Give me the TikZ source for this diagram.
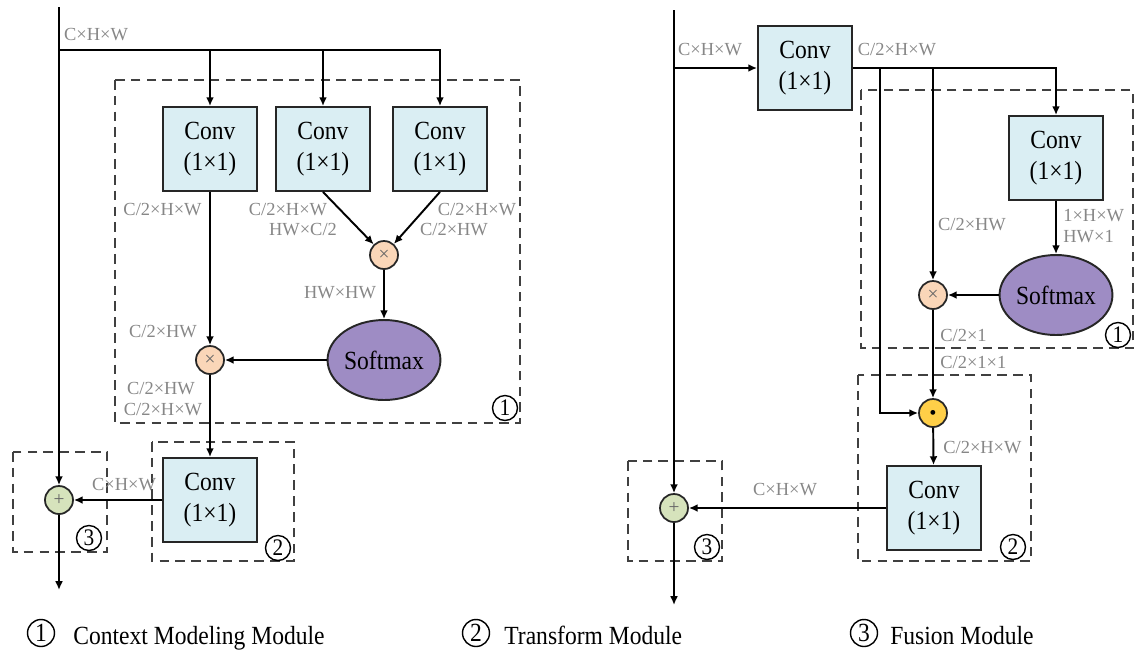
\documentclass[tikz,border=0pt]{standalone}
\usepackage{fontspec}
\setmainfont{Liberation Serif}[FakeStretch=0.9]
\newfontfamily\labelfont{Liberation Serif}
\usepackage{xcolor}
\usepackage{tikz}
\usetikzlibrary{arrows.meta}
\usetikzlibrary{shapes.geometric}
\usetikzlibrary{positioning, calc}

\definecolor{convblue}{RGB}{218,238,243}
\definecolor{softpurple}{RGB}{158,140,196}
\definecolor{mulpeach}{RGB}{250,214,184}
\definecolor{addgreen}{RGB}{214,227,188}
\definecolor{dotyellow}{RGB}{255,207,72}
\definecolor{dimgray}{RGB}{135,135,135}

\tikzset{
  big/.style={font=\fontsize{14.9}{18}\selectfont},
  conv/.style={rectangle,draw=black!85,line width=1.1pt,fill=convblue,
               minimum width=1.88cm,minimum height=1.68cm,inner sep=0pt,
               align=center,big},
  soft/.style={ellipse,draw=black!85,line width=1.1pt,fill=softpurple,
               minimum width=2.24cm,minimum height=1.6cm,inner sep=0pt,big},
  op/.style={circle,draw=black!85,line width=1pt,minimum size=0.56cm,
             inner sep=0pt,text=black!60,font=\labelfont\fontsize{11}{11}\selectfont},
  num/.style={circle,draw=black,line width=0.8pt,minimum size=0.5cm,
              inner sep=0pt,font=\fontsize{13.5}{13.5}\selectfont},
  dim/.style={text=dimgray,inner sep=0pt,font=\labelfont\fontsize{10.5}{12}\selectfont},
  dashbox/.style={draw=black!75,line width=0.75pt,dash pattern=on 5.5pt off 3.5pt},
  flow/.style={draw=black,line width=1.1pt}
}

\begin{document}
\begin{tikzpicture}[x=0.02cm,y=-0.02cm,>={Latex[length=5pt,width=4.5pt]}]
\useasboundingbox (0,0) rectangle (1143,654);

% ---- left block ----
\draw[dashbox] (115,80) rectangle (520,423);
\draw[dashbox] (152,442) rectangle (294,561);
\draw[dashbox] (13,452) rectangle (107,552);

\begin{scope}
    \node[conv] (convLa) at (210,149) {Conv\\(1×1)};
    \node[conv] (convLb) at (323,149) {Conv\\(1×1)};
    \node[conv] (convLc) at (440,149) {Conv\\(1×1)};
    \node[op,fill=mulpeach] (mulLa) at (384,255) {×};
    \node[soft] (softL) at (384,360) {Softmax};
    \node[op,fill=mulpeach] (mulLb) at (210,360) {×};
    \node[conv] (convLd) at (210,500) {Conv\\(1×1)};
    \node[op,fill=addgreen] (addL) at (59,500) {+};
    \coordinate (topL) at (59,7);
    \coordinate (splitL) at (59,50);
    \coordinate (endL) at (59,590);
\end{scope}

\begin{scope}[every edge/.style={flow}]
    \path [->] (topL) edge (addL);
    \path [->] (addL) edge (endL);
    \path [->] (convLa) edge (mulLb);
    \path [->] (convLb.south) edge (mulLa);
    \path [->] (convLc.south) edge (mulLa);
    \path [->] (mulLa) edge (softL);
    \path [->] (softL) edge (mulLb);
    \path [->] (mulLb) edge (convLd);
    \path [->] (convLd) edge (addL);
\end{scope}
\draw[flow,->] (splitL) -| (convLc.north);
\draw[flow,->] (splitL) -| (convLb.north);
\draw[flow,->] (splitL) -| (convLa.north);

\node[dim] (sLa) at (96,35) {C×H×W};
\node[dim,anchor=east] (sLb) at (202,210) {C/2×H×W};
\node[dim] (sLc) at (288,210) {C/2×H×W};
\node[dim] (sLd) at (303,230) {HW×C/2};
\node[dim] (sLe) at (477,210) {C/2×H×W};
\node[dim] (sLf) at (454,230) {C/2×HW};
\node[dim] (sLg) at (340,293) {HW×HW};
\node[dim] (sLh) at (163,332) {C/2×HW};
\node[dim] (sLi) at (161,389) {C/2×HW};
\node[dim] (sLj) at (163,410) {C/2×H×W};
\node[dim] (sLk) at (124,485) {C×H×W};

\node[num] (nL1) at (505,408) {1};
\node[num] (nL2) at (278,548) {2};
\node[num] (nL3) at (89,538) {3};

% ---- right block ----
\draw[dashbox] (861,90) rectangle (1133,348);
\draw[dashbox] (858,375) rectangle (1031,561);
\draw[dashbox] (628,461) rectangle (722,561);

\begin{scope}
    \node[conv] (convRa) at (805,68) {Conv\\(1×1)};
    \node[conv] (convRb) at (1056,158) {Conv\\(1×1)};
    \node[soft] (softR) at (1056,295) {Softmax};
    \node[op,fill=mulpeach] (mulR) at (933,295) {×};
    \node[op,fill=dotyellow,text=black] (dotR) at (933,413) {\fontsize{6}{6}\selectfont$\bullet$};
    \node[conv] (convRc) at (934,508) {Conv\\(1×1)};
    \node[op,fill=addgreen] (addR) at (674,508) {+};
    \coordinate (topR) at (674,10);
    \coordinate (splitR) at (674,68);
    \coordinate (endR) at (674,605);
    \coordinate (tapA) at (880,68);
    \coordinate (tapB) at (933,68);
\end{scope}

\begin{scope}[every edge/.style={flow}]
    \path [->] (topR) edge (addR);
    \path [->] (addR) edge (endR);
    \path [->] (splitR) edge (convRa);
    \path [->] (tapB) edge (mulR);
    \path [->] (convRb) edge (softR);
    \path [->] (softR) edge (mulR);
    \path [->] (mulR) edge (dotR);
    \path [->] (dotR) edge (convRc);
    \path [->] (convRc) edge (addR);
\end{scope}
\draw[flow,->] (convRa.east) -| (convRb.north);
\draw[flow,->] (tapA) |- (dotR);

\node[dim] (sRa) at (710,50) {C×H×W};
\node[dim] (sRb) at (897,50) {C/2×H×W};
\node[dim] (sRc) at (972,225) {C/2×HW};
\node[dim,anchor=west] (sRd) at (1063,216) {1×H×W};
\node[dim,anchor=west] (sRe) at (1063,237) {HW×1};
\node[dim,anchor=west] (sRf) at (940,335) {C/2×1};
\node[dim,anchor=west] (sRg) at (940,362) {C/2×1×1};
\node[dim,anchor=west] (sRh) at (943,448) {C/2×H×W};
\node[dim] (sRi) at (785,490) {C×H×W};

\node[num] (nR1) at (1118,335) {1};
\node[num] (nR2) at (1013,547) {2};
\node[num] (nR3) at (707,547) {3};

% ---- key ----
\node[num,minimum size=0.54cm,big] (k1) at (41,633) {1};
\node[big,inner sep=0pt,anchor=base west] (k1t) at (73,644) {Context Modeling Module};
\node[num,minimum size=0.54cm,big] (k2) at (476,633) {2};
\node[big,inner sep=0pt,anchor=base west] (k2t) at (504,644) {Transform Module};
\node[num,minimum size=0.54cm,big] (k3) at (864,633) {3};
\node[big,inner sep=0pt,anchor=base west] (k3t) at (890,644) {Fusion Module};
\end{tikzpicture}
\end{document}
